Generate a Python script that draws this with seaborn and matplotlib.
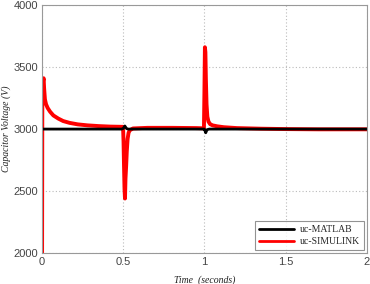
import numpy as np
import pandas as pd
import matplotlib
matplotlib.use("Agg")
import matplotlib.pyplot as plt
import seaborn as sns

# Simulation (red) trace
t_sim = [0.0, 0.0005, 0.002, 0.004, 0.007, 0.010, 0.013, 0.018, 0.025, 0.035, 0.05, 0.07,
         0.10, 0.13, 0.17, 0.22, 0.28, 0.35, 0.42, 0.499, 0.502, 0.505, 0.508, 0.511,
         0.514, 0.518, 0.522, 0.527, 0.533, 0.54, 0.56, 0.65, 0.80, 0.95, 0.997, 1.000,
         1.003, 1.006, 1.009, 1.013, 1.018, 1.025, 1.035, 1.05, 1.08, 1.12, 1.2, 1.35,
         1.5, 1.7, 2.0]
v_sim = [2000, 2000, 3250, 3320, 3390, 3410, 3330, 3240, 3200, 3170, 3140, 3110,
         3085, 3065, 3050, 3038, 3030, 3024, 3020, 3018, 2900, 2700, 2520, 2440,
         2600, 2700, 2820, 2920, 2970, 2990, 3005, 3010, 3010, 3008, 3006, 3300,
         3660, 3620, 3400, 3200, 3100, 3060, 3040, 3030, 3022, 3015, 3008, 3003,
         3000, 2998, 2998]

# MATLAB (black) trace
t_mat = [0.0, 0.49, 0.5, 0.51, 0.52, 0.53, 0.99, 1.0, 1.008, 1.016, 1.03, 2.0]
v_mat = [3000, 3000, 3005, 3025, 3005, 3000, 3000, 3000, 2970, 2995, 3000, 3000]

series_names = ["uc-MATLAB", "uc-SIMULINK"]
x_ticks = [0, 0.5, 1, 1.5, 2]
x_tick_labels = ["0", "0.5", "1", "1.5", "2"]
y_ticks = [2000, 2500, 3000, 3500, 4000]

df = pd.concat([
    pd.DataFrame({"t": t_mat, "v": v_mat, "s": series_names[0]}),
    pd.DataFrame({"t": t_sim, "v": v_sim, "s": series_names[1]}),
])

sns.set_style("white")
fig = plt.figure(figsize=(3.70, 2.84), dpi=100)
ax = fig.add_axes([0.1135, 0.109, 0.878, 0.873])

sns.lineplot(data=df[df.s == series_names[1]], x="t", y="v", color="#ff0000",
             linewidth=2.8, ax=ax, label=series_names[1], sort=False, estimator=None)
sns.lineplot(data=df[df.s == series_names[0]], x="t", y="v", color="#000000",
             linewidth=2.0, ax=ax, label=series_names[0], sort=False, estimator=None)

ax.set_xlim(0, 2)
ax.set_ylim(2000, 4000)
ax.set_xticks(x_ticks)
ax.set_xticklabels(x_tick_labels)
ax.set_yticks(y_ticks)
ax.grid(True, color="#bbbbbb", linestyle=(0, (1, 2)), linewidth=0.8)
for sp in ax.spines.values():
    sp.set_color("#999999")
    sp.set_linewidth(0.8)
ax.tick_params(axis="both", labelsize=8, colors="#444444", length=0, pad=3)
for lbl in ax.get_xticklabels() + ax.get_yticklabels():
    lbl.set_family("Liberation Sans")

ax.set_xlabel("Time  (seconds)", fontsize=7, style="italic", family="Liberation Serif",
              color="#222222", labelpad=6)
ax.set_ylabel("Capacitor Voltage (V)", fontsize=7, style="italic", family="Liberation Serif",
              color="#222222")
ax.yaxis.set_label_coords(-0.095, 0.5)

handles, labels = ax.get_legend_handles_labels()
order = [labels.index(n) for n in series_names]
leg = ax.legend([handles[i] for i in order], [labels[i] for i in order],
                loc="lower right", prop={"family": "Liberation Serif", "size": 7},
                frameon=True, fancybox=False, edgecolor="#777777", borderaxespad=0.3,
                handlelength=3.6, labelspacing=0.3, borderpad=0.4, handletextpad=0.6)
leg.get_frame().set_linewidth(0.8)
for line in leg.get_lines():
    line.set_linewidth(2.0)

fig.savefig("out.png", dpi=100)
